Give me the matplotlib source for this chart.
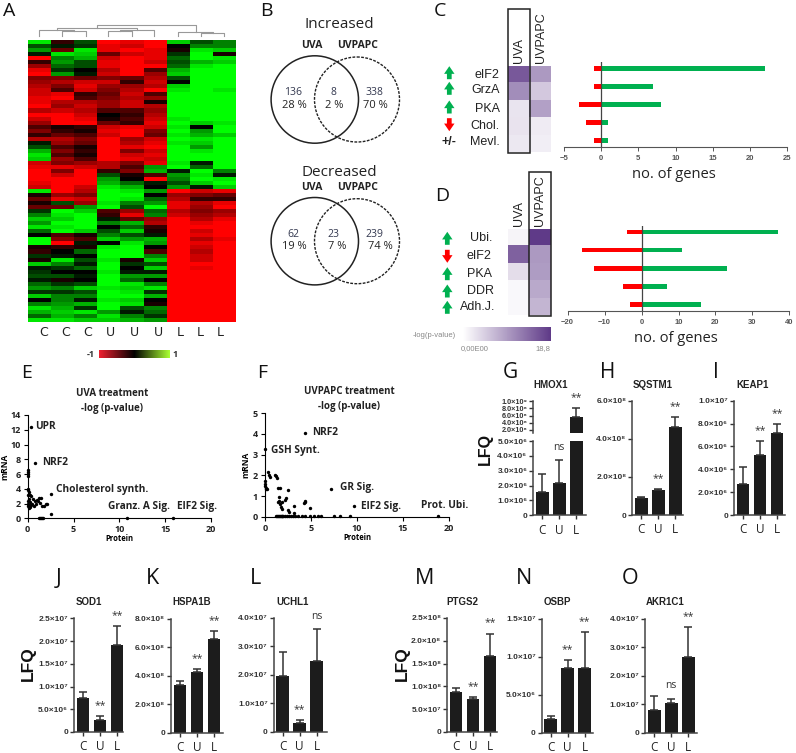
#!/usr/bin/env python3
# multi panel figure, proteomics of UVA / UVPAPC treatment (panels A-O)
import numpy as np
import matplotlib
matplotlib.use('Agg')
import matplotlib.pyplot as plt
from matplotlib.colors import LinearSegmentedColormap
from matplotlib.patches import Circle, Rectangle

W, H = 796, 753
SANS = 'Liberation Sans'
SOFT = 'Open Sans'
SUPER = {'6': '⁶', '7': '⁷', '8': '⁸', '9': '⁹'}

plt.rcParams['font.family'] = [SANS, 'DejaVu Sans']

#########################
# panel A, values per row (tenths), columns C C C U U U L L L
#########################
HEAT_COLS = ['C', 'C', 'C', 'U', 'U', 'U', 'L', 'L', 'L']
HEAT_ROWS = [
    [9, -2, 3, -10, -9, -10, 8, 3, 5],
    [3, 1, 2, -9, -8, -10, 0, 5, 5],
    [6, -4, 9, -9, -10, -9, -1, 9, 8],
    [1, 9, 8, -4, -8, -9, 2, 10, -1],
    [-10, 5, 7, -8, -10, -9, 4, 10, 9],
    [-2, 6, 3, -9, -10, -8, 3, 7, 8],
    [-6, 4, 3, -9, -10, -10, 4, 9, 10],
    [-9, 2, 0, -7, -10, -3, 7, 10, 10],
    [-10, 6, 1, -8, -10, -6, 8, 10, 10],
    [-5, -5, -4, -5, -4, -7, 3, 10, 10],
    [-6, -7, -8, -8, -2, -8, 0, 10, 10],
    [-7, -5, -9, -6, -6, -7, 8, 10, 10],
    [-8, -3, -8, -5, -7, -10, 9, 10, 9],
    [-8, -9, -2, -4, -8, -3, 10, 10, 10],
    [-9, -10, -3, -5, -7, -6, 10, 10, 10],
    [-9, -7, -7, -6, -8, -1, 10, 10, 10],
    [-10, -6, -8, -6, -8, -7, 10, 10, 10],
    [-7, -8, -7, -3, -3, -6, 10, 10, 10],
    [-10, -10, -8, 0, -2, -7, 10, 10, 10],
    [-8, -10, -9, -1, -3, -8, 9, 10, 10],
    [-6, -10, -10, -4, -2, -9, 10, 8, 9],
    [-3, -1, -2, -8, -9, -8, 9, 0, 10],
    [-5, -2, -1, -9, -10, -5, 10, 6, 10],
    [-2, -4, -3, -8, -10, -4, 9, 7, 8],
    [-7, -7, -5, -10, -6, -8, 10, 9, 10],
    [1, -6, -4, -10, -7, -9, 9, 8, 10],
    [3, -3, -1, -10, -9, -10, 10, 6, 10],
    [7, -5, -2, -10, -5, -8, 10, 9, 10],
    [9, -3, -1, -10, -8, -9, 10, 10, 10],
    [8, -6, -3, -10, -9, -8, 10, 10, 10],
    [-8, -5, -6, -7, -5, -9, 9, 1, 10],
    [-9, -9, -8, -7, -3, 6, 10, 4, 10],
    [-10, -5, -10, -2, -5, 7, 1, 10, 5],
    [-10, -8, -10, 3, -1, -3, 6, 9, 1],
    [-10, -10, -10, 6, 0, -10, 5, 10, 9],
    [-9, -10, -10, 7, 4, 1, 3, 8, 10],
    [-8, -10, -8, 9, 7, 0, 6, 1, 8],
    [9, -10, -7, 10, 9, 6, -10, -8, -9],
    [-1, -6, -5, 10, 10, 0, -6, -5, -4],
    [-4, -9, -8, 10, 9, 4, -7, -2, -2],
    [-1, 3, -6, 9, 5, 6, -9, -7, -9],
    [-4, -4, 6, 10, 3, 10, -9, -6, -10],
    [2, 10, 8, -3, -6, 4, -7, -5, -6],
    [5, 9, 10, -2, -9, 5, -8, -6, -7],
    [8, 8, 10, 1, -4, -6, -10, -7, -9],
    [6, 10, 10, 5, 7, -7, -10, -9, -10],
    [9, 9, 10, 0, 4, -2, -10, -10, -10],
    [4, 10, 8, 3, 8, -1, -10, -8, -10],
    [0, -3, -1, 5, 3, 1, -10, -9, -10],
    [10, -5, -3, 8, 6, 7, -10, -7, -9],
    [10, -10, 1, 0, 9, 6, -10, -9, -10],
    [-1, -2, -1, 9, 10, 0, -10, -8, -10],
    [-2, 0, 4, 10, 10, -3, -10, -7, -10],
    [2, 1, 0, 10, 10, 5, -10, -8, -10],
    [-1, 9, 3, 9, -1, 8, -10, -8, -10],
    [8, 5, 1, 10, 2, 3, -10, -10, -10],
    [1, 2, 4, 10, 0, 8, -10, -9, -10],
    [2, 0, 0, 9, 1, 1, -10, -10, -10],
    [3, 3, 1, 10, 6, 6, -10, -10, -10],
    [1, -1, 0, 10, 4, 0, -10, -10, -10],
    [4, 2, 3, 10, 9, 5, -10, -10, -10],
    [6, 5, 8, 9, 8, 9, -10, -10, -10],
    [2, 2, 3, 10, 9, 2, -10, -10, -10],
    [8, 5, 5, 10, 10, 7, -10, -10, -10],
    [0, 5, 1, 9, 8, 0, -10, -10, -10],
    [5, 6, 7, 10, 9, -1, -10, -10, -10],
    [9, 7, 2, 10, 3, 5, -10, -10, -10],
    [7, 8, 9, 6, 1, 4, -10, -10, -10],
    [4, 7, 5, 9, 5, 2, -10, -10, -10],
    [9, 9, 8, 8, 7, 6, -10, -10, -10],
]
HEAT_LABEL_X = [43.3, 65.7, 87.3, 110, 134, 158, 180, 200.7, 220]
# dendrogram brackets: left x, right x, top y, left foot y, right foot y (px)
DENDRO = [
    (62, 85.7, 31.3, 36, 36),
    (39, 74, 30, 36, 31.3),
    (108.3, 131.7, 31.3, 36, 36),
    (120, 154.3, 30.3, 31.3, 36),
    (56.7, 137.3, 28.3, 30, 30.3),
    (201, 224.3, 32.7, 36, 36),
    (177.7, 212.7, 31.7, 36, 32.7),
    (96.7, 195.7, 24.7, 28.3, 31.7),
]

#########################
# panel B
#########################
VENN_INC = [('136', '28 %'), ('8', '2 %'), ('338', '70 %')]
VENN_DEC = [('62', '19 %'), ('23', '7 %'), ('239', '74 %')]

#########################
# panels C, D
#########################
C_TERMS = ['eIF2', 'GrzA', 'PKA', 'Chol.', 'Mevl.']
C_DIR = ['up', 'up', 'up', 'down', '+/-']
C_HEAT_UVA = [15.8, 10.8, 2.5, 2.6, 2.2]
C_HEAT_UVPAPC = [9.7, 5.2, 9.0, 1.9, 1.6]
C_UP = [22, 7, 8, 1, 1]
C_DOWN = [-1, -1, -3, -2, -1]

D_TERMS = ['Ubi.', 'eIF2', 'PKA', 'DDR', 'Adh.J.']
D_DIR = ['up', 'down', 'up', 'up', 'up']
D_HEAT_UVA = [1.0, 15.0, 3.2, 0.6, 0.6]
D_HEAT_UVPAPC = [18.8, 9.7, 9.4, 8.2, 7.0]
D_UP = [37, 11, 23, 7, 16]
D_DOWN = [-4, -16, -13, -5, -3]

#########################
# panels E, F (protein, mRNA)
#########################
E_X = [0.35, 0.8, 2.5, 2.5, 10.8, 15.8, 0, 0, 0, 0, 0, 0.05, 0.1, 0.3, 0.4, 0.1, 0.6, 0.7,
       0.9, 1.1, 1.2, 1.4, 1.3, 1.6, 1.8, 2.0, 2.1, 0.2, 0.05, 0.15, 0.4, 0.5, 0.8, 1.0,
       1.25, 1.35, 1.45, 1.55, 1.7, 0, 0.05, 0.1, 0.2, 0.05]
E_Y = [12.4, 7.5, 3.3, 0.6, 0.1, 0.1, 6.6, 6.3, 6.0, 5.7, 4.0, 3.8, 3.5, 3.2, 3.0, 2.6, 2.6,
       1.7, 1.9, 2.3, 2.7, 2.8, 2.1, 1.6, 1.7, 1.9, 2.0, 2.2, 1.6, 1.4, 1.8, 2.0, 2.4, 2.5,
       0.1, 0.1, 0.1, 0.1, 0.1, 2.4, 2.0, 1.8, 1.5, 3.1]
F_X = [4.4, 0, 7.2, 9.7, 18.8, 0.3, 0.4, 0.5, 0, 0, 0.05, 0.1, 0.15, 0.2, 1.1, 1.2, 1.3, 1.4,
       1.6, 1.5, 2.5, 1.5, 1.4, 1.6, 1.7, 1.8, 1.9, 2.2, 2.3, 2.5, 3.1, 3.1, 2.6, 4.2, 4.3,
       4.4, 4.9, 1.2, 1.4, 1.6, 1.8, 2.0, 2.2, 2.4, 2.6, 2.8, 3.0, 3.3, 3.6, 4.0, 4.4, 4.9,
       5.3, 5.8, 6.1, 7.5, 8.1, 9.2, 1.3, 1.5, 1.7, 1.9]
F_Y = [4.05, 3.25, 1.33, 0.5, 0.03, 2.15, 2.0, 1.9, 1.75, 1.6, 1.5, 1.4, 1.35, 1.35, 2.0, 1.95,
       1.85, 1.4, 1.4, 0.95, 1.3, 0.75, 0.7, 0.6, 0.45, 0.7, 0.35, 0.8, 0.9, 0.3, 0.5, 0.2,
       0.25, 0.65, 0.75, 0.7, 0.4, 0.03, 0.03, 0.03, 0.03, 0.03, 0.03, 0.03, 0.03, 0.03, 0.03,
       0.03, 0.03, 0.03, 0.03, 0.03, 0.03, 0.03, 0.03, 0.03, 0.03, 0.03, 0.03, 0.03, 0.03, 0.03]

#########################
# bar panels: value, top of error bar, significance
#########################
GROUPS = ['C', 'U', 'L']
HMOX1 = ([1.55e6, 2.15e6, 5.6e8], [2.75e6, 3.7e6, 8.2e8], ['', 'ns', '**'])
SQSTM1 = ([0.9e8, 1.33e8, 4.6e8], [0.94e8, 1.38e8, 5.15e8], ['', '**', '**'])
KEAP1 = ([2.7e6, 5.25e6, 7.2e6], [4.2e6, 6.45e6, 8.0e6], ['', '**', '**'])
SOD1 = ([7.5e6, 2.6e6, 1.92e7], [8.8e6, 3.6e6, 2.34e7], ['', '**', '**'])
HSPA1B = ([3.35e8, 4.25e8, 6.6e8], [3.6e8, 4.5e8, 7.15e8], ['', '**', '**'])
UCHL1 = ([1.95e7, 0.33e7, 2.5e7], [2.8e7, 0.42e7, 3.6e7], ['', '**', 'ns'])
PTGS2 = ([0.88e8, 0.73e8, 1.66e8], [0.96e8, 0.77e8, 2.16e8], ['', '**', '**'])
OSBP = ([1.8e6, 8.5e6, 8.5e6], [2.2e6, 9.6e6, 1.32e7], ['', '**', '**'])
AKR1C1 = ([0.8e7, 1.05e7, 2.65e7], [1.28e7, 1.2e7, 3.7e7], ['', 'ns', '**'])

SOD1_TICKS = [0, 5e6, 1e7, 1.5e7, 2e7, 2.5e7]
PTGS2_TICKS = [0, 5e7, 1e8, 1.5e8, 2e8, 2.5e8]
OSBP_TICKS = [0, 5e6, 1e7, 1.5e7]
E4_TICKS = [0, 1e7, 2e7, 3e7, 4e7]
KEAP1_TICKS = [0, 2e6, 4e6, 6e6, 8e6, 1e7]
HSP_TICKS = [0, 2e8, 4e8, 6e8, 8e8]
SQ_TICKS = [0, 2e8, 4e8, 6e8]


def px_axes(fig, x0, y0, x1, y1, **kw):
    # axes from pixel corners, y counted from the top of the picture
    return fig.add_axes([x0 / W, 1 - y1 / H, (x1 - x0) / W, (y1 - y0) / H], **kw)


def sci_label(v):
    if v == 0:
        return '0'
    exp = int(np.floor(np.log10(v)))
    return '%.1f×10%s' % (v / 10 ** exp, SUPER[str(exp)])


def plot_heatmap(fig, page):
    ax = px_axes(fig, 28, 40, 236, 321.5)
    rg = LinearSegmentedColormap.from_list('rg', ['#ff0000', '#000000', '#00ff00'])
    ax.imshow(np.array(HEAT_ROWS) / 10.0, cmap=rg, vmin=-1, vmax=1, aspect='auto', interpolation='nearest')
    ax.set_xticks([])
    ax.set_yticks([])
    for s in ax.spines.values():
        s.set_visible(False)
    for i in range(9):
        page.text(HEAT_LABEL_X[i], 332.7, HEAT_COLS[i], fontsize=9, family='DejaVu Sans', ha='center', va='center', color='#222222')
    for (xl, xr, top, fl, fr) in DENDRO:
        page.plot([xl, xl, xr, xr], [fl, top, top, fr], color='#999999', lw=0.8)

    cb = px_axes(fig, 99, 350, 170, 358.5)
    legend_cmap = LinearSegmentedColormap.from_list('lg', ['#ee2030', '#000000', '#aaff33'])
    cb.imshow(np.linspace(-1, 1, 128)[None, :], cmap=legend_cmap, aspect='auto')
    cb.axis('off')
    page.text(90.5, 354.5, '-1', fontsize=6.5, weight='bold', family=SOFT, ha='center', va='center', color='#333333')
    page.text(175.5, 354.5, '1', fontsize=6.5, weight='bold', family=SOFT, ha='center', va='center', color='#333333')


def plot_venn(page, cy, title_y, label_y, counts, title, shift):
    page.add_patch(Circle((314.8, cy), 43.7, fill=False, ec='#222222', lw=1.1))
    page.add_patch(Circle((357, cy), 42.5, fill=False, ec='#222222', lw=1.0, ls=(0, (2, 1))))
    page.text(339.3, title_y, title, fontsize=11, family=SOFT, ha='center', va='center', color='#222222')
    page.text(312, label_y, 'UVA', fontsize=7.5, weight='bold', family=SOFT, ha='center', va='center', color='#222222')
    page.text(358, label_y, 'UVPAPC', fontsize=7.5, weight='bold', family=SOFT, ha='center', va='center', color='#222222')
    xs = [293.5, 333.5, 374.5]
    for i in range(3):
        page.text(xs[i], cy - 7, counts[i][0], fontsize=7.5, family=SOFT, ha='center', va='center', color='#33384f')
        page.text(xs[i] + shift[i], cy + 5.5, counts[i][1], fontsize=8, family=SOFT, ha='center', va='center', color='#222222')


def plot_arrow(page, x, y, kind):
    col = '#00b050' if kind == 'up' else '#ff0000'
    if kind == 'up':
        start, end = y + 6.5, y - 6.5
    else:
        start, end = y - 6.5, y + 6.5
    page.annotate('', xy=(x, end), xytext=(x, start),
                  arrowprops=dict(arrowstyle='simple,head_length=0.55,head_width=0.75,tail_width=0.34',
                                  color=col, lw=0, shrinkA=0, shrinkB=0))


def plot_pathways(fig, page, hx, hy, uva, uvpapc, box_col, box_top, up, down, xlim, xticks, bar_rect, gene_xy):
    purple = LinearSegmentedColormap.from_list('pu', ['#ffffff', '#5f3a88'])
    heat = px_axes(fig, hx[0], hy[0], hx[1], hy[1])
    heat.imshow(np.array([uva, uvpapc]).T, cmap=purple, vmin=0, vmax=18.8, aspect='auto')
    heat.axis('off')
    bx = hx[0] + box_col * (hx[1] - hx[0]) / 2.0
    page.add_patch(Rectangle((bx, box_top), (hx[1] - hx[0]) / 2.0, hy[1] + 0.8 - box_top, fill=False, ec='#222222', lw=1.1, zorder=5))
    page.text(hx[0] + (hx[1] - hx[0]) * 0.25, hy[0] - 2.5, 'UVA', rotation=90, fontsize=9, ha='center', va='bottom', color='#222222', zorder=6)
    page.text(hx[0] + (hx[1] - hx[0]) * 0.75, hy[0] - 2.5, 'UVPAPC', rotation=90, fontsize=9, ha='center', va='bottom', color='#222222', zorder=6)

    ax = px_axes(fig, *bar_rect)
    pos = np.arange(5)
    ax.barh(pos, up, height=0.27, color='#00b050')
    ax.barh(pos, down, height=0.27, color='#ff0000')
    ax.axvline(0, color='#444444', lw=0.9)
    ax.set_xlim(*xlim)
    ax.set_ylim(4.36, -0.35)
    ax.set_xticks(xticks)
    ax.tick_params(axis='x', labelsize=5.5, length=3, width=0.7, color='#555555', labelcolor='#555555', pad=3)
    for t in ax.get_xticklabels():
        t.set_fontweight('bold')
    ax.set_yticks([])
    for s in ['top', 'left', 'right']:
        ax.spines[s].set_visible(False)
    ax.spines['bottom'].set_color('#555555')
    ax.spines['bottom'].set_linewidth(0.8)
    page.text(gene_xy[0], gene_xy[1], 'no. of genes', fontsize=10.5, family=SOFT, ha='center', va='center', color='#222222')


def plot_scatter(fig, rect, x, y, ymax, yticks, title_x, title_ys, title2, labels, ylab_x):
    ax = px_axes(fig, *rect)
    ax.scatter(x, y, s=6, color='black', clip_on=False, zorder=3, lw=0)
    ax.set_xlim(0, 20)
    ax.set_ylim(0, ymax)
    ax.set_xticks([0, 5, 10, 15, 20])
    ax.set_yticks(yticks)
    ax.tick_params(labelsize=6.5, length=3, width=0.8, pad=2, labelcolor='#222222')
    for t in ax.get_xticklabels() + ax.get_yticklabels():
        t.set_fontweight('bold')
        t.set_family(SOFT)
    for s in ['top', 'right']:
        ax.spines[s].set_visible(False)
    ax.set_xlabel('Protein', fontsize=5.5, weight='bold', family=SOFT, labelpad=0)
    ax.text(ylab_x, 0.5, 'mRNA', rotation=90, fontsize=6, weight='bold', family=SOFT, transform=ax.transAxes, ha='center', va='center')
    for (lx, ly, txt) in labels:
        ax.text(lx, ly, txt, fontsize=7.3, weight='bold', family=SOFT, ha='left', va='center', color='#222222')
    fig.text(title_x / W, 1 - title_ys[0] / H, title2[0], fontsize=7, weight='bold', family=SOFT, ha='center', va='center', color='#222222')
    fig.text(title_x / W, 1 - title_ys[1] / H, title2[1], fontsize=7, weight='bold', family=SOFT, ha='center', va='center', color='#222222')


def style_bar_axis(ax, ticks, size=6.0):
    ax.set_yticks(ticks)
    ax.set_yticklabels([sci_label(v) for v in ticks])
    ax.tick_params(axis='y', labelsize=size, length=3.2, width=1.0, color='#333333', pad=1, labelcolor='#333333')
    for t in ax.get_yticklabels():
        t.set_fontweight('bold')
    for s in ['top', 'right']:
        ax.spines[s].set_visible(False)
    ax.spines['left'].set_color('#444444')
    ax.spines['bottom'].set_color('#444444')
    ax.spines['left'].set_linewidth(1.1)
    ax.spines['bottom'].set_linewidth(1.1)
    ax.patch.set_alpha(0)


def draw_bars(ax, vals, tops, sig, offs=9):
    pos = np.arange(3)
    err = np.array(tops) - np.array(vals)
    ax.bar(pos, vals, width=0.75, color='#1c1c1c')
    ax.errorbar(pos, vals, yerr=[np.zeros(3), err], fmt='none', ecolor='#333333', elinewidth=1.1, capsize=2.7, capthick=1.1)
    for i in range(3):
        if sig[i] == '':
            continue
        txt_y = offs - 1.5 if sig[i] == '**' else offs
        ax.annotate(sig[i], (pos[i], tops[i]), xytext=(0, txt_y), textcoords='offset points', ha='center',
                    va='center', fontsize=7.5, color='#333333', family=SOFT, annotation_clip=False)


def bar_xlim(x0, x1):
    # bars are 17 px apart, first centre about 9 px from the axis
    return (-9.0 / 17, -9.0 / 17 + (x1 - x0) / 17.0)


def plot_bars(fig, page, rect, data, ymax, ticks, name, title_xy):
    ax = px_axes(fig, *rect)
    draw_bars(ax, data[0], data[1], data[2])
    ax.set_xlim(*bar_xlim(rect[0], rect[2]))
    ax.set_ylim(0, ymax)
    ax.set_xticks([0, 1, 2])
    ax.set_xticklabels(GROUPS, fontsize=8.5, family=SOFT, color='#222222')
    ax.tick_params(axis='x', length=3, width=1.0, color='#333333', pad=3)
    style_bar_axis(ax, ticks)
    page.text(title_xy[0], title_xy[1], name, fontsize=7, weight='bold', ha='center', va='center', color='#222222')


def plot_hmox(fig, page):
    vals, tops, sig = HMOX1
    low = px_axes(fig, 533.3, 441, 585.7, 515.3)
    draw_bars(low, vals, tops, ['', 'ns', ''])
    low.set_xlim(*bar_xlim(533.3, 585.7))
    low.set_ylim(0, 5e6)
    low.set_xticks([0, 1, 2])
    low.set_xticklabels(GROUPS, fontsize=8.5, family=SOFT, color='#222222')
    low.tick_params(axis='x', length=3, width=1.0, color='#333333', pad=3)
    style_bar_axis(low, [0, 1e6, 2e6, 3e6, 4e6, 5e6])

    up = px_axes(fig, 533.3, 401.3, 585.7, 433)
    draw_bars(up, [0, 0, vals[2]], [0, 0, tops[2]], ['', '', sig[2]])
    up.set_xlim(*bar_xlim(533.3, 585.7))
    up.set_ylim(1.16e8, 1e9)
    up.set_xticks([])
    style_bar_axis(up, [2e8, 4e8, 6e8, 8e8, 1e9], size=5.2)
    up.spines['bottom'].set_visible(False)
    page.text(551, 385, 'HMOX1', fontsize=7, weight='bold', ha='center', va='center', color='#222222')


def main():
    fig = plt.figure(figsize=(W / 100.0, H / 100.0), dpi=100)
    page = fig.add_axes([0, 0, 1, 1], zorder=10)
    page.set_xlim(0, W)
    page.set_ylim(H, 0)
    page.axis('off')

    plot_heatmap(fig, page)

    plot_venn(page, 99.5, 24.3, 45, VENN_INC, 'Increased', [1, 1, 0.5])
    plot_venn(page, 241.2, 172.7, 187.5, VENN_DEC, 'Decreased', [1, 3.5, 5.5])

    # panel C
    plot_pathways(fig, page, (508.3, 551.3), (65.7, 152), C_HEAT_UVA, C_HEAT_UVPAPC, 0, 9.3,
                  C_UP, C_DOWN, (-5, 25), range(-5, 26, 5), (563.7, 62, 787.3, 146.7), (674, 174.7))
    c_ys = [74.7, 90.3, 109, 125.7, 142.3]
    for i in range(5):
        page.text(499.5, c_ys[i], C_TERMS[i], fontsize=9, ha='right', va='center', color='#222222')
        if C_DIR[i] == '+/-':
            page.text(449.3, c_ys[i], '+/-', fontsize=9, weight='bold', ha='center', va='center', color='#222222')
        else:
            plot_arrow(page, 449.3, c_ys[i] - 2 if i < 3 else c_ys[i] - 1, C_DIR[i])

    # panel D
    plot_pathways(fig, page, (508, 550.7), (228.7, 315.3), D_HEAT_UVA, D_HEAT_UVPAPC, 1, 171.7,
                  D_UP, D_DOWN, (-20, 40), range(-20, 41, 10), (567.7, 225.7, 789.3, 310.7), (676, 338))
    d_ys = [238.3, 256.3, 273.7, 291, 307.3]
    d_right = [492.3, 491.5, 492.3, 494, 495.7]
    for i in range(5):
        page.text(d_right[i], d_ys[i], D_TERMS[i], fontsize=9, ha='right', va='center', color='#222222')
        plot_arrow(page, 447.3, d_ys[i], D_DIR[i])

    # purple scale of C and D
    scale = px_axes(fig, 462.7, 327, 550.3, 340.7)
    purple = LinearSegmentedColormap.from_list('pu', ['#ffffff', '#5f3a88'])
    scale.imshow(np.linspace(0, 1, 128)[None, :], cmap=purple, aspect='auto')
    scale.axis('off')
    page.text(455.7, 335.7, '-log(p-value)', fontsize=5.5, ha='right', va='center', color='#888888')
    page.text(475, 349, '0,00E00', fontsize=5.5, ha='center', va='center', color='#888888')
    page.text(542.7, 349, '18,8', fontsize=5.5, ha='center', va='center', color='#888888')

    # panels E, F
    plot_scatter(fig, (27.7, 415, 211, 518.3), E_X, E_Y, 14, range(0, 15, 2), 112, (394, 408.5),
                 ('UVA treatment', '-log (p-value)'),
                 [(0.85, 12.4, 'UPR'), (1.6, 7.6, 'NRF2'), (3.1, 3.9, 'Cholesterol synth.'),
                  (8.75, 1.6, 'Granz. A Sig.'), (16.3, 1.6, 'ElF2 Sig.')], -0.125)
    plot_scatter(fig, (265, 413.3, 449, 516.7), F_X, F_Y, 5, range(0, 6), 349.5, (392, 407),
                 ('UVPAPC treatment', '-log (p-value)'),
                 [(5.1, 4.05, 'NRF2'), (0.65, 3.2, 'GSH Synt.'), (8.2, 1.4, 'GR Sig.'),
                  (10.4, 0.47, 'ElF2 Sig.'), (17, 0.55, 'Prot. Ubi.')], -0.105)

    # panels G-O
    plot_hmox(fig, page)
    plot_bars(fig, page, (632.3, 400.7, 683.3, 515), SQSTM1, 6e8, SQ_TICKS, 'SQSTM1', (653, 385))
    plot_bars(fig, page, (734, 400.7, 785, 515), KEAP1, 1e7, KEAP1_TICKS, 'KEAP1', (752.3, 385))
    plot_bars(fig, page, (74, 618.3, 122.7, 732), SOD1, 2.5e7, SOD1_TICKS, 'SOD1', (89, 601.7))
    plot_bars(fig, page, (171, 618.7, 222.7, 732.7), HSPA1B, 8e8, HSP_TICKS, 'HSPA1B', (191.7, 602.3))
    plot_bars(fig, page, (273.7, 617.7, 326.7, 732), UCHL1, 4e7, E4_TICKS, 'UCHL1', (292.3, 602))
    plot_bars(fig, page, (447, 618, 497, 732), PTGS2, 2.5e8, PTGS2_TICKS, 'PTGS2', (462.7, 602))
    plot_bars(fig, page, (541.7, 618.7, 592.7, 732.7), OSBP, 1.5e7, OSBP_TICKS, 'OSBP', (557.3, 602))
    plot_bars(fig, page, (645.3, 618.7, 697, 732.7), AKR1C1, 4e7, E4_TICKS, 'AKR1C1', (665, 602))

    for (x, y, size) in [(485.7, 449.3, 11.5), (28.3, 664, 12.5), (402.7, 664, 12.5)]:
        page.text(x, y, 'LFQ', rotation=90, fontsize=size, weight='bold', ha='center', va='center', color='#111111')

    # panel letters
    for (txt, x, y, size) in [('A', 9, 11, 14), ('B', 266, 11, 14), ('C', 440, 11, 14), ('D', 442.3, 195.7, 14),
                              ('E', 27, 373, 14), ('F', 262, 373, 14), ('G', 510, 372, 15), ('H', 608, 372, 15),
                              ('I', 716, 372, 15), ('J', 59, 579, 15.5), ('K', 153, 579, 15.5), ('L', 256, 579, 15.5),
                              ('M', 425, 579, 15.5), ('N', 523.7, 579, 15.5), ('O', 630, 579, 15.5)]:
        page.text(x, y, txt, fontsize=size, ha='center', va='center', color='#111111', family=SOFT)

    fig.savefig('out.png', dpi=100)


main()
